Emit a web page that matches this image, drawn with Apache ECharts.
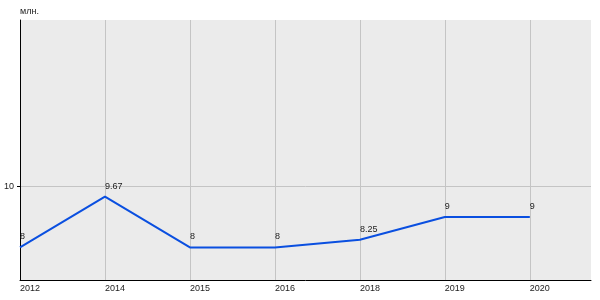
<!DOCTYPE html>
<html>
<head>
<meta charset="utf-8">
<script src="https://cdn.jsdelivr.net/npm/echarts@6/dist/echarts.min.js"></script>
<style>html,body{margin:0;padding:0;background:#fff}#c{width:600px;height:300px}</style>
</head>
<body>
<div id="c"></div>
<script>
var categories = ['2012', '2014', '2015', '2016', '2018', '2019', '2020'];
var values = [8, 9.67, 8, 8, 8.25, 9, 9];
var yTickValues = [10];
var unitLabel = 'млн.';

var positions = categories.map(function (c, i) { return i; });
var seriesData = values.map(function (v, i) { return [i, v]; });
var FONT = 'Liberation Sans, Arial, sans-serif';

var chart = echarts.init(document.getElementById('c'), null, {renderer: 'canvas'});
chart.setOption({
  animation: false,
  grid: {left: 20, top: 20, right: 9, bottom: 20, containLabel: false,
         show: true, backgroundColor: '#ebebeb', borderWidth: 0},
  xAxis: {
    type: 'value', min: 0, max: 6.72,
    axisLine: {show: true, onZero: false, lineStyle: {color: '#000', width: 1}},
    axisTick: {show: false, customValues: positions},
    splitLine: {show: true, lineStyle: {color: '#c4c4c4', width: 1}},
    axisLabel: {
      customValues: positions,
      formatter: function (v) { return categories[Math.round(v)] || ''; },
      align: 'left', margin: 4, color: '#222', fontSize: 9, fontFamily: FONT
    }
  },
  yAxis: {
    type: 'value', min: 6.93, max: 15.47,
    name: unitLabel, nameLocation: 'end', nameGap: 8,
    nameTextStyle: {align: 'left', verticalAlign: 'middle', color: '#222', fontSize: 9, fontFamily: FONT},
    axisLine: {show: true, lineStyle: {color: '#000', width: 1}},
    axisTick: {show: true, length: 3, customValues: yTickValues, lineStyle: {color: '#000'}},
    splitLine: {show: true, lineStyle: {color: '#c4c4c4', width: 1}},
    axisLabel: {customValues: yTickValues, margin: 6, color: '#222', fontSize: 9, fontFamily: FONT,
                verticalAlign: 'middle', padding: [0, 0, 8, 0]}
  },
  series: [{
    type: 'line', data: seriesData, showSymbol: true, symbol: 'circle', symbolSize: 2,
    itemStyle: {color: 'rgba(0,0,0,0)', borderWidth: 0},
    lineStyle: {color: '#0a4fe0', width: 2},
    label: {show: true, position: 'top', align: 'left', distance: 5,
            formatter: function (p) { return String(p.value[1]); },
            color: '#222', fontSize: 9, fontFamily: FONT}
  }]
});
</script>
</body>
</html>
